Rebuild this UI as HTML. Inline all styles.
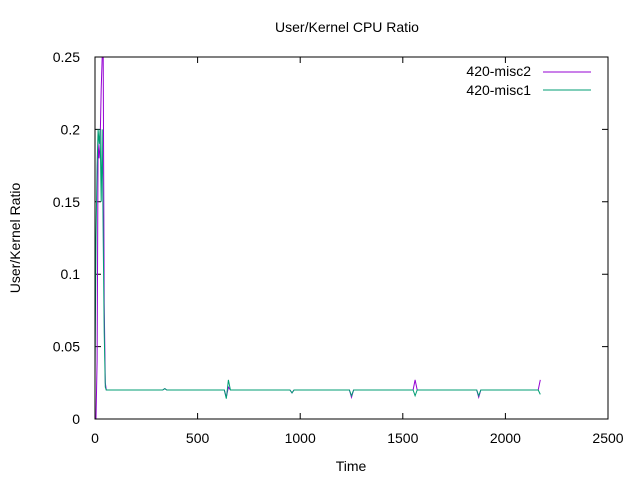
<!DOCTYPE html>
<html><head><meta charset="utf-8"><style>
body{margin:0;background:#fff}
svg{display:block;font-family:"Liberation Sans",sans-serif}
</style></head><body>
<svg id="c" width="640" height="480">
<rect x="0" y="0" width="640" height="480" fill="#fff"/>
<text x="347" y="32" font-size="14" text-anchor="middle">User/Kernel CPU Ratio</text>
<text x="351" y="471" font-size="14" text-anchor="middle">Time</text>
<text transform="translate(20,238) rotate(-90)" font-size="14" text-anchor="middle">User/Kernel Ratio</text>
<g id="ticks"></g>
<g id="series"></g>
<rect x="95" y="57" width="513" height="362" fill="none" stroke="#000" stroke-width="1"/>
<g>
<text x="531" y="76" font-size="14" text-anchor="end">420-misc2</text>
<line x1="543" y1="72" x2="591" y2="72" stroke="#9400d3"/>
<text x="531" y="95" font-size="14" text-anchor="end">420-misc1</text>
<line x1="543" y1="90" x2="591" y2="90" stroke="#009e73"/>
</g>
</svg>
<script>
const xTicks=[0,500,1000,1500,2000,2500];
const yTicks=[0,0.05,0.1,0.15,0.2,0.25];
const yTickLabels=["0","0.05","0.1","0.15","0.2","0.25"];
const misc2T=[0,5,10,15,20,25,30,35,40,45,50,55,330,340,350,630,640,650,660,950,960,970,1240,1250,1260,1550,1560,1570,1860,1870,1880,2160,2170];
const misc2V=[0,0,0.04,0.19,0.18,0.19,0.228,0.25,0.25,0.08,0.025,0.02,0.02,0.021,0.02,0.02,0.015,0.022,0.02,0.02,0.018,0.02,0.02,0.015,0.02,0.02,0.027,0.02,0.02,0.015,0.02,0.02,0.027];
const misc1T=[0,5,10,15,20,25,30,35,40,45,50,55,330,340,350,630,640,650,660,950,960,970,1240,1250,1260,1550,1560,1570,1860,1870,1880,2160,2170];
const misc1V=[0.03,0.125,0.175,0.2,0.19,0.2,0.15,0.2,0.125,0.06,0.022,0.02,0.02,0.021,0.02,0.02,0.014,0.027,0.02,0.02,0.018,0.02,0.02,0.016,0.02,0.02,0.016,0.02,0.02,0.016,0.02,0.02,0.017];
const X=v=>95+v/2500*513, Y=v=>419-v/0.25*362;
const ns="http://www.w3.org/2000/svg";
const tg=document.getElementById('ticks');
function mk(tag,attrs,parent){const e=document.createElementNS(ns,tag);for(const k in attrs)e.setAttribute(k,attrs[k]);parent.appendChild(e);return e;}
xTicks.forEach(t=>{
 const x=X(t);
 const l=mk('path',{d:`M${x},419v-6M${x},57v6`,stroke:'#000'},tg);
 
 
 const tx=mk('text',{x:x,y:443,'font-size':14,'text-anchor':'middle'},tg);
 tx.textContent=t;
 
 
});
yTicks.forEach((t,i)=>{
 const y=Y(t);
 const l=mk('path',{d:`M95,${y}h6M608,${y}h-6`,stroke:'#000'},tg);
 
 
 const tx=mk('text',{x:80,y:y+5,'font-size':14,'text-anchor':'end'},tg);
 tx.textContent=yTickLabels[i];
 
 
});
const sg=document.getElementById('series');
function line(T,V,color,name){
 const d=T.map((t,i)=>(i?'L':'M')+X(t).toFixed(1)+','+Y(V[i]).toFixed(1)).join('');
 const p=mk('path',{d:d,fill:'none',stroke:color,'stroke-width':1},sg);
 
 
}
line(misc2T,misc2V,'#9400d3','line-420-misc2');
line(misc1T,misc1V,'#009e73','line-420-misc1');
</script>
</body></html>
